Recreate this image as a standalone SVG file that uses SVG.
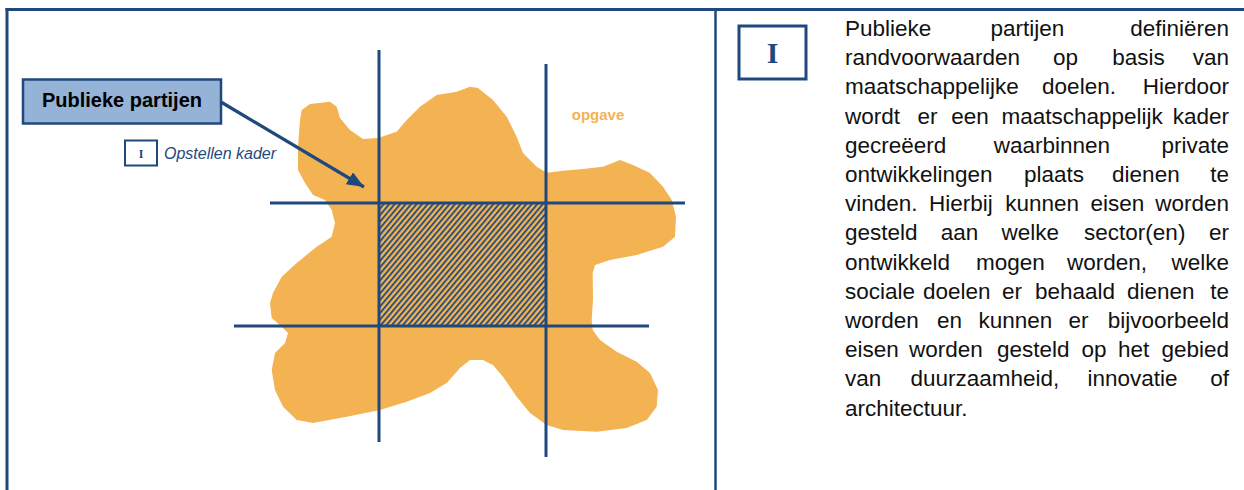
<svg xmlns="http://www.w3.org/2000/svg" width="1244" height="490" viewBox="0 0 1244 490">
  <style>
    .blue { stroke: #1f497d; }
    .frame { stroke: #1f497d; stroke-width: 3; fill: none; }
    .grid { stroke: #1f497d; stroke-width: 3; fill: none; }
    .para { font-family: "Liberation Sans", Arial, sans-serif; font-size: 22.5px; fill: #111111; }
    .end { text-anchor: end; }
  </style>
  <defs>
    <pattern id="hatch" width="4.2" height="4.2" patternUnits="userSpaceOnUse" patternTransform="rotate(40)">
      <rect width="4.2" height="4.2" fill="#f4b353"/>
      <line x1="1" y1="0" x2="1" y2="4.2" stroke="#1f497d" stroke-width="1.8"/>
    </pattern>
    <marker id="arrowhead" markerUnits="userSpaceOnUse" markerWidth="20" markerHeight="16" refX="17" refY="7" orient="auto">
      <path d="M0,0 L17,7 L0,14 Z" fill="#1f497d"/>
    </marker>
  </defs>

  <rect width="1244" height="490" fill="#ffffff"/>

  <g id="frame">
    <line class="frame" x1="5.5" y1="9.5" x2="1244" y2="9.5"/>
    <line class="frame" x1="7" y1="8" x2="7" y2="490"/>
    <line class="frame" x1="715.5" y1="9.5" x2="715.5" y2="490" style="stroke-width:2.5"/>
  </g>

  <g id="opgave">
    <path fill="#f4b353" d="M301.7,110 L310,104 L330,101.7 L336.7,106.7 L340,118 L350,130 L363,139 L378,138 L396.7,131.7 L406.7,120 L420,106.7 L436.7,95 L456.7,91.7 L470,86.7 L478,88 L493,100 L506.7,116.7 L516.7,136.7 L523,153 L536.7,166.7 L546.7,172.7 L563,170.7 L583,169 L603,166.7 L620,160 L633,165 L650,173 L663,186.7 L671.7,200 L676,216.7 L675,236.7 L663,246.7 L636.7,255 L610,260 L595,265 L592.7,273 L593,300 L591.7,320 L592.7,330 L600,340 L616.7,351.7 L636.7,361.7 L650,373 L658,390 L656.7,406.7 L646.7,420 L626.7,428 L596.7,431.7 L563,430 L546.7,425 L530,413 L516.7,396.7 L503,376.7 L493,365 L483,360 L470,360 L460,368 L446.7,383 L430,393 L406.7,401.7 L380,410 L346.7,416.7 L313,423 L296.7,420 L283,406.7 L275,390 L271.7,370 L275,353 L285,343 L288,333 L281.7,326.7 L271.7,318 L270,303 L273,293 L281.7,276.7 L296.7,263 L316.7,246.7 L331.7,236.7 L335,223 L331.7,210 L325,200 L313,195 L305,183 L298,170 L298,146.7 L300,120 Z"/>
    <text x="598" y="120" text-anchor="middle" font-family="Liberation Sans, Arial, sans-serif" font-size="15" font-weight="bold" fill="#f4b353">opgave</text>
  </g>

  <g id="kader">
    <rect x="379" y="203" width="167" height="123" fill="url(#hatch)"/>
    <line class="grid" x1="379" y1="50" x2="379" y2="442"/>
    <line class="grid" x1="546" y1="64" x2="546" y2="457"/>
    <line class="grid" x1="270" y1="203" x2="685" y2="203"/>
    <line class="grid" x1="234" y1="326" x2="649" y2="326"/>
  </g>

  <g id="connectors">
    <line x1="221" y1="102" x2="364" y2="187" stroke="#1f497d" stroke-width="3.2" marker-end="url(#arrowhead)"/>
  </g>

  <g id="publieke-partijen">
    <rect x="23" y="79.5" width="198" height="44" fill="#95b3d7" stroke="#1f497d" stroke-width="2.5"/>
    <text x="122" y="107" text-anchor="middle" font-family="Liberation Sans, Arial, sans-serif" font-size="20" font-weight="bold" fill="#000000">Publieke partijen</text>
  </g>

  <g id="opstellen-kader">
    <rect x="125" y="140.5" width="32" height="25" fill="#ffffff" stroke="#1f497d" stroke-width="2"/>
    <text x="141" y="158" text-anchor="middle" font-family="Liberation Serif, serif" font-size="12" font-weight="bold" fill="#1f497d">I</text>
    <text x="164" y="158.5" font-family="Liberation Sans, Arial, sans-serif" font-size="16" font-style="italic" fill="#1f497d">Opstellen kader</text>
  </g>

  <g id="toelichting">
    <rect x="739" y="26" width="67" height="53" fill="#ffffff" stroke="#1f497d" stroke-width="3"/>
    <text x="772.5" y="63" text-anchor="middle" font-family="Liberation Serif, serif" font-size="30" font-weight="bold" fill="#1f497d">I</text>
    <g class="para">
      <text y="36"><tspan x="845">Publieke</tspan><tspan x="990.4">partijen</tspan><tspan class="end" x="1229">definiëren</tspan></text>
      <text y="65.2"><tspan x="845">randvoorwaarden</tspan><tspan x="1053">op</tspan><tspan x="1112.3">basis</tspan><tspan class="end" x="1229">van</tspan></text>
      <text y="94.4"><tspan x="845">maatschappelijke</tspan><tspan x="1042.1">doelen.</tspan><tspan class="end" x="1229">Hierdoor</tspan></text>
      <text y="123.6"><tspan x="845">wordt</tspan><tspan x="917.4">er</tspan><tspan x="951.3">een</tspan><tspan x="1001.4">maatschappelijk</tspan><tspan class="end" x="1229">kader</tspan></text>
      <text y="152.8"><tspan x="845">gecreëerd</tspan><tspan x="993.7">waarbinnen</tspan><tspan class="end" x="1229">private</tspan></text>
      <text y="182"><tspan x="845">ontwikkelingen</tspan><tspan x="1023.9">plaats</tspan><tspan x="1112.1">dienen</tspan><tspan class="end" x="1229">te</tspan></text>
      <text y="211.2"><tspan x="845">vinden.</tspan><tspan x="928.9">Hierbij</tspan><tspan x="1005.3">kunnen</tspan><tspan x="1090.4">eisen</tspan><tspan class="end" x="1229">worden</tspan></text>
      <text y="240.4"><tspan x="845">gesteld</tspan><tspan x="940.8">aan</tspan><tspan x="1001.5">welke</tspan><tspan x="1084.1">sector(en)</tspan><tspan class="end" x="1229">er</tspan></text>
      <text y="269.6"><tspan x="845">ontwikkeld</tspan><tspan x="976">mogen</tspan><tspan x="1066.9">worden,</tspan><tspan class="end" x="1229">welke</tspan></text>
      <text y="298.8"><tspan x="845">sociale</tspan><tspan x="923">doelen</tspan><tspan x="1002">er</tspan><tspan x="1035">behaald</tspan><tspan x="1127">dienen</tspan><tspan class="end" x="1229">te</tspan></text>
      <text y="328"><tspan x="845">worden</tspan><tspan x="937.1">en</tspan><tspan x="978.5">kunnen</tspan><tspan x="1068.6">er</tspan><tspan class="end" x="1229">bijvoorbeeld</tspan></text>
      <text y="357.2"><tspan x="845">eisen</tspan><tspan x="909">worden</tspan><tspan x="996.9">gesteld</tspan><tspan x="1081.5">op</tspan><tspan x="1118">het</tspan><tspan class="end" x="1229">gebied</tspan></text>
      <text y="386.4"><tspan x="845">van</tspan><tspan x="910.4">duurzaamheid,</tspan><tspan x="1087.4">innovatie</tspan><tspan class="end" x="1229">of</tspan></text>
      <text y="415.6"><tspan x="845">architectuur.</tspan></text>
    </g>
  </g>
</svg>
